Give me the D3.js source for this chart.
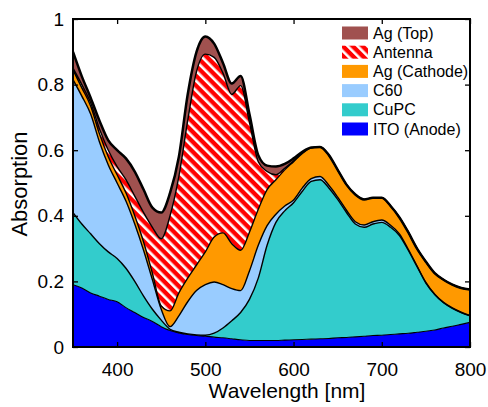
<!DOCTYPE html>
<html>
<head>
<meta charset="utf-8">
<script src="https://cdn.jsdelivr.net/npm/d3@7"></script>
<style>
  body { margin: 0; background: #fff; }
  text { font-family: "Liberation Sans", Arial, Helvetica, sans-serif; }
</style>
</head>
<body>
<div id="chart"></div>
<script>
// wavelength grid [nm]
var wavelength = [350,360,370,380,390,400,410,420,430,440,
                  450,460,470,480,490,500,510,520,530,540,
                  550,560,570,580,590,600,610,620,630,640,
                  650,660,670,680,690,700,710,720,730,740,
                  750,760,770,780,790,800];

// cumulative upper edge of each layer
var itoTop = [.19,.18,.165,.155,.145,.138,.12,.105,.09,.078,
              .062,.05,.043,.038,.035,.033,.03,.028,.025,.022,
              .02,.02,.02,.02,.021,.022,.023,.024,.025,.026,
              .028,.029,.031,.033,.035,.036,.038,.04,.042,.045,
              .048,.052,.058,.063,.069,.075];
var cupcTop = [.41,.375,.345,.315,.29,.27,.24,.20,.155,.115,
               .082,.054,.045,.04,.037,.036,.042,.058,.08,.105,
               .145,.21,.31,.38,.415,.44,.475,.505,.51,.485,
               .45,.41,.375,.365,.375,.38,.365,.34,.295,.245,
               .195,.16,.135,.118,.105,.095];
var c60Top = [.815,.765,.71,.625,.555,.50,.445,.375,.295,.205,
              .115,.062,.095,.138,.172,.19,.198,.19,.178,.172,
              .232,.31,.37,.405,.43,.448,.485,.513,.52,.493,
              .457,.417,.382,.372,.382,.387,.371,.345,.298,.247,
              .197,.161,.136,.119,.106,.096];
var cathodeTop = [.845,.79,.735,.65,.58,.525,.47,.40,.32,.225,
                  .125,.11,.165,.21,.25,.29,.335,.348,.315,.295,
                  .35,.42,.48,.51,.54,.565,.59,.607,.61,.585,
                  .54,.495,.465,.45,.455,.455,.43,.395,.35,.30,
                  .26,.225,.205,.19,.18,.175];
var antennaTop = [.85,.80,.745,.665,.60,.55,.51,.46,.41,.365,
                  .33,.40,.52,.69,.84,.893,.883,.835,.77,.797,
                  .685,.565,.535,.525,.545,.567,.592,.607,.61,.585,
                  .54,.495,.465,.45,.455,.455,.43,.395,.35,.30,
                  .26,.225,.205,.19,.18,.175];
var agTop = [.90,.825,.76,.69,.63,.60,.575,.535,.48,.425,
             .41,.47,.58,.77,.90,.947,.925,.866,.803,.826,
             .71,.585,.553,.55,.558,.575,.595,.608,.61,.585,
             .54,.495,.465,.45,.455,.455,.43,.395,.35,.30,
             .26,.225,.205,.19,.18,.175];

var layerNames = ["ITO (Anode)", "CuPC", "C60", "Ag (Cathode)", "Antenna", "Ag (Top)"];
var layerTops = [itoTop, cupcTop, c60Top, cathodeTop, antennaTop, agTop];
var layerFills = ["#0000ff", "#33cccc", "#99ccff", "#ff9900", "url(#hatch)", "#a0514f"];

var xTicks = [400, 500, 600, 700, 800];
var yTicks = [0, 0.2, 0.4, 0.6, 0.8, 1];

var svgWidth = 488, svgHeight = 407;
var margin = {top: 19, right: 18, bottom: 60, left: 73};
var width = svgWidth - margin.left - margin.right;
var height = svgHeight - margin.top - margin.bottom;

var svg = d3.select("#chart").append("svg")
    .attr("width", svgWidth)
    .attr("height", svgHeight);

var defs = svg.append("defs");
var hatch = defs.append("pattern")
    .attr("id", "hatch")
    .attr("patternUnits", "userSpaceOnUse")
    .attr("width", 7).attr("height", 7)
    .attr("patternTransform", "rotate(-45)");
hatch.append("rect").attr("width", 7).attr("height", 7).attr("fill", "#ff0000");
hatch.append("rect").attr("x", 0).attr("width", 2.6).attr("height", 7).attr("fill", "#ffffff");

defs.append("clipPath").attr("id", "plotClip")
  .append("rect").attr("width", width).attr("height", height);

var chartGroup = svg.append("g")
    .attr("transform", `translate(${margin.left}, ${margin.top})`);

var x = d3.scaleLinear().domain([350, 800]).range([0, width]);
var y = d3.scaleLinear().domain([0, 1]).range([height, 0]);

var plot = chartGroup.append("g").attr("clip-path", "url(#plotClip)");

// stacked bands, bottom to top
layerTops.forEach(function(top, i) {
  var lower = i === 0 ? null : layerTops[i - 1];
  var area = d3.area()
      .x((d, j) => x(wavelength[j]))
      .y0((d, j) => y(lower ? lower[j] : 0))
      .y1(d => y(d))
      .curve(d3.curveMonotoneX);
  plot.append("path")
      .datum(top)
      .attr("d", area)
      .attr("fill", layerFills[i]);
});

// black edges of each band
layerTops.forEach(function(top, i) {
  var line = d3.line()
      .x((d, j) => x(wavelength[j]))
      .y(d => y(d))
      .curve(d3.curveMonotoneX);
  plot.append("path")
      .datum(top)
      .attr("d", line)
      .attr("fill", "none")
      .attr("stroke", "#000")
      .attr("stroke-width", i === layerTops.length - 1 ? 2.5 : (i === 0 ? 1.1 : 1.4))
      .attr("stroke-linejoin", "round");
});

// axes with inward ticks on all four sides
var bottomAxis = d3.axisBottom(x).tickValues(xTicks).tickSizeInner(-5).tickSizeOuter(0).tickPadding(16);
var leftAxis = d3.axisLeft(y).tickValues(yTicks).tickSizeInner(-5).tickSizeOuter(0).tickPadding(9).tickFormat(d3.format("~g"));
var topAxis = d3.axisTop(x).tickValues(xTicks).tickSizeInner(-5).tickSizeOuter(0).tickFormat("");
var rightAxis = d3.axisRight(y).tickValues(yTicks).tickSizeInner(-5).tickSizeOuter(0).tickFormat("");

var gx = chartGroup.append("g").attr("transform", `translate(0, ${height})`).call(bottomAxis);
var gy = chartGroup.append("g").call(leftAxis);
var gt = chartGroup.append("g").call(topAxis);
var gr = chartGroup.append("g").attr("transform", `translate(${width}, 0)`).call(rightAxis);

[gx, gy, gt, gr].forEach(function(g) {
  g.select(".domain").remove();
  g.selectAll(".tick line").attr("stroke", "#000").attr("stroke-width", 1.3);
  g.selectAll(".tick text").style("font-size", "19px").attr("fill", "#000");
});

chartGroup.append("rect")
    .attr("width", width).attr("height", height)
    .attr("fill", "none").attr("stroke", "#000").attr("stroke-width", 2);

// axis titles
chartGroup.append("text")
    .attr("x", 214).attr("y", height + 51)
    .attr("text-anchor", "middle")
    .style("font-size", "21px")
    .text("Wavelength [nm]");

chartGroup.append("text")
    .attr("transform", "rotate(-90)")
    .attr("x", -165).attr("y", -46)
    .attr("text-anchor", "middle")
    .style("font-size", "22px")
    .text("Absorption");

// legend, top entry first
var legend = chartGroup.append("g").attr("transform", "translate(269, 14)");
var legendOrder = [5, 4, 3, 2, 1, 0];
legendOrder.forEach(function(k, r) {
  var row = legend.append("g").attr("transform", `translate(0, ${r * 19.2})`);
  row.append("rect")
      .attr("x", 0).attr("y", -6.5)
      .attr("width", 26).attr("height", 13)
      .attr("fill", layerFills[k]);
  row.append("text")
      .attr("x", 31).attr("y", 0).attr("dy", "0.35em")
      .style("font-size", "16px")
      .text(layerNames[k]);
});
</script>
</body>
</html>
